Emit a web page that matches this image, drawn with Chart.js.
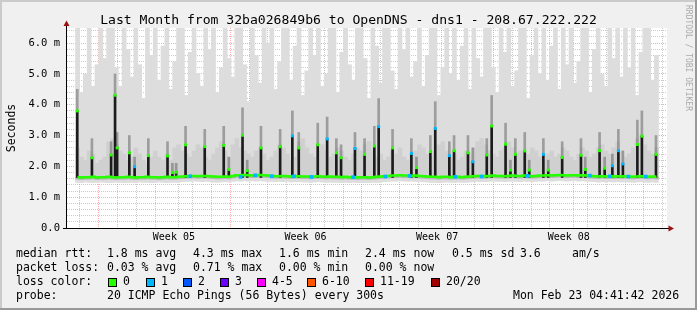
<!DOCTYPE html>
<html>
<head>
<meta charset="utf-8">
<script src="https://cdn.jsdelivr.net/npm/chart.js@4.4.1/dist/chart.umd.min.js"></script>
<style>
  html, body { margin: 0; padding: 0; background: #f0f0f0; }
  canvas { display: block; }
</style>
</head>
<body>
<canvas id="smoke" width="697" height="310"></canvas>
<script>
// time axis: days since Jan 23 04:41, one month shown
const DAYS = 31;
const weekStart = 1.73;               // first week boundary (days after start)
const weekLabels = ['Week 05', 'Week 06', 'Week 07', 'Week 08'];
const yLabels = ['0.0', '1.0 m', '2.0 m', '3.0 m', '4.0 m', '5.0 m', '6.0 m'];

// smoke per 4px bin (ms): lowest ping, lower band, median, middle band, highest ping
const smokeMax = [
  6.8, 4.4, 5.0, 6.8, 4.6, 5.3, 6.8, 5.5, 6.8, 6.8,
  5.2, 4.6, 6.8, 5.8, 4.9, 6.8, 5.3, 4.2, 6.8, 5.6,
  6.8, 4.8, 5.9, 6.8, 4.5, 5.4, 6.8, 6.8, 4.3, 5.7,
  6.8, 5.0, 4.6, 6.8, 5.8, 6.8, 4.4, 5.2, 6.8, 5.5,
  4.9, 6.8, 6.8, 5.3, 4.1, 6.8, 5.6, 4.7, 6.8, 6.0,
  6.8, 4.5, 5.4, 6.8, 6.8, 4.8, 5.9, 6.8, 4.3, 5.1,
  6.8, 5.6, 6.8, 4.6, 5.0, 6.8, 6.8, 4.4, 5.7, 6.8,
  5.3, 4.8, 6.8, 6.8, 5.5, 4.2, 6.8, 5.9, 4.7, 6.8,
  6.8, 5.1, 4.5, 6.8, 5.8, 6.8, 4.9, 5.4, 6.8, 4.6,
  5.6, 6.8, 6.8, 4.3, 5.2, 6.8, 5.0, 6.8, 4.8, 5.9,
  6.8, 4.5, 6.8, 5.5, 4.9, 6.8, 6.8, 5.2, 4.4, 6.8,
  5.7, 6.8, 4.6, 5.1, 6.8, 6.8, 4.2, 5.6, 6.8, 5.0,
  6.8, 4.8, 5.9, 6.8, 4.5, 6.8, 5.3, 6.8, 4.7, 5.4,
  6.8, 6.8, 4.4, 5.8, 6.8, 5.0, 4.6, 6.8, 5.5, 6.8,
  4.9, 6.8, 5.2, 6.8, 4.3, 5.7, 6.8, 6.8, 4.8, 5.6
];
const smokeMid = [
  2.6, 2.3, 2.2, 2.5, 2.4, 2.1, 2.2, 2.3, 2.8, 2.9,
  2.7, 2.5, 2.4, 2.2, 2.3, 2.6, 2.4, 2.2, 2.1, 2.3,
  2.5, 2.3, 2.2, 2.4, 2.2, 2.6, 2.7, 2.5, 2.4, 2.3,
  2.5, 2.7, 2.6, 2.3, 2.2, 2.4, 2.6, 2.8, 2.5, 2.3,
  2.7, 2.9, 2.6, 2.5, 2.4, 2.3, 2.5, 2.6, 2.4, 2.2,
  2.3, 2.5, 2.7, 2.6, 2.4, 2.2, 2.3, 2.8, 2.9, 2.6,
  2.4, 2.3, 2.5, 2.7, 2.5, 2.3, 2.4, 2.6, 2.5, 2.3,
  2.2, 2.4, 2.6, 2.5, 2.7, 2.8, 2.5, 2.3, 2.4, 2.2,
  2.3, 2.5, 2.4, 2.6, 2.3, 2.2, 2.4, 2.5, 2.7, 2.6,
  2.4, 2.3, 2.5, 2.7, 2.8, 2.5, 2.3, 2.4, 2.2, 2.3,
  2.5, 2.4, 2.6, 2.8, 2.9, 2.7, 2.5, 2.4, 2.3, 2.5,
  2.6, 2.8, 2.6, 2.4, 2.5, 2.3, 2.4, 2.6, 2.5, 2.3,
  2.2, 2.4, 2.5, 2.3, 2.4, 2.6, 2.5, 2.3, 2.2, 2.4,
  2.6, 2.5, 2.3, 2.4, 2.6, 2.7, 2.5, 2.4, 2.6, 2.8,
  2.5, 2.3, 2.4, 2.6, 2.9, 3.0, 2.7, 2.5, 2.4, 2.6
];
const median = [
  1.65, 1.64, 1.65, 1.65, 1.66, 1.64, 1.65, 1.65, 1.66, 1.65,
  1.64, 1.65, 1.65, 1.66, 1.65, 1.64, 1.65, 1.65, 1.66, 1.65,
  1.65, 1.64, 1.65, 1.66, 1.65, 1.65, 1.66, 1.67, 1.68, 1.69,
  1.69, 1.68, 1.69, 1.69, 1.68, 1.67, 1.66, 1.66, 1.67, 1.66,
  1.69, 1.71, 1.71, 1.72, 1.71, 1.70, 1.71, 1.72, 1.71, 1.70,
  1.69, 1.68, 1.68, 1.69, 1.68, 1.67, 1.68, 1.68, 1.67, 1.67,
  1.66, 1.67, 1.68, 1.67, 1.66, 1.67, 1.66, 1.66, 1.65, 1.66,
  1.65, 1.65, 1.64, 1.65, 1.65, 1.64, 1.65, 1.66, 1.67, 1.68,
  1.69, 1.70, 1.70, 1.71, 1.70, 1.70, 1.69, 1.70, 1.69, 1.68,
  1.67, 1.66, 1.66, 1.65, 1.66, 1.66, 1.65, 1.66, 1.66, 1.65,
  1.66, 1.67, 1.68, 1.69, 1.69, 1.68, 1.69, 1.70, 1.69, 1.69,
  1.68, 1.69, 1.70, 1.69, 1.69, 1.70, 1.69, 1.68, 1.69, 1.70,
  1.70, 1.71, 1.70, 1.71, 1.72, 1.71, 1.70, 1.71, 1.71, 1.70,
  1.71, 1.70, 1.69, 1.68, 1.67, 1.68, 1.67, 1.68, 1.67, 1.68,
  1.67, 1.68, 1.67, 1.66, 1.67, 1.68, 1.67, 1.66, 1.67, 1.66
];
const smokeLo = [
  1.58, 1.57, 1.58, 1.58, 1.59, 1.57, 1.58, 1.58, 1.59, 1.58,
  1.57, 1.58, 1.58, 1.59, 1.58, 1.57, 1.58, 1.58, 1.59, 1.58,
  1.58, 1.57, 1.58, 1.59, 1.58, 1.58, 1.59, 1.60, 1.61, 1.62,
  1.62, 1.61, 1.62, 1.62, 1.61, 1.60, 1.59, 1.59, 1.60, 1.59,
  1.62, 1.64, 1.64, 1.65, 1.64, 1.63, 1.64, 1.65, 1.64, 1.63,
  1.62, 1.61, 1.61, 1.62, 1.61, 1.60, 1.61, 1.61, 1.60, 1.60,
  1.59, 1.60, 1.61, 1.60, 1.59, 1.60, 1.59, 1.59, 1.58, 1.59,
  1.58, 1.58, 1.57, 1.58, 1.58, 1.57, 1.58, 1.59, 1.60, 1.61,
  1.62, 1.63, 1.63, 1.64, 1.63, 1.63, 1.62, 1.63, 1.62, 1.61,
  1.60, 1.59, 1.59, 1.58, 1.59, 1.59, 1.58, 1.59, 1.59, 1.58,
  1.59, 1.60, 1.61, 1.62, 1.62, 1.61, 1.62, 1.63, 1.62, 1.62,
  1.61, 1.62, 1.63, 1.62, 1.62, 1.63, 1.62, 1.61, 1.62, 1.63,
  1.63, 1.64, 1.63, 1.64, 1.65, 1.64, 1.63, 1.64, 1.64, 1.63,
  1.64, 1.63, 1.62, 1.61, 1.60, 1.61, 1.60, 1.61, 1.60, 1.61,
  1.60, 1.61, 1.60, 1.59, 1.60, 1.61, 1.60, 1.59, 1.60, 1.59
];
const smokeMin = [
  1.48, 1.47, 1.49, 1.48, 1.47, 1.48, 1.49, 1.48, 1.47, 1.48,
  1.49, 1.48, 1.47, 1.48, 1.48, 1.47, 1.49, 1.48, 1.48, 1.47,
  1.48, 1.49, 1.48, 1.47, 1.48, 1.48, 1.49, 1.50, 1.51, 1.51,
  1.52, 1.51, 1.50, 1.51, 1.50, 1.49, 1.48, 1.49, 1.50, 1.49,
  1.51, 1.53, 1.52, 1.53, 1.52, 1.53, 1.52, 1.53, 1.52, 1.51,
  1.51, 1.50, 1.51, 1.50, 1.51, 1.49, 1.50, 1.50, 1.49, 1.49,
  1.48, 1.49, 1.50, 1.49, 1.48, 1.49, 1.48, 1.48, 1.47, 1.48,
  1.47, 1.48, 1.47, 1.48, 1.47, 1.47, 1.48, 1.48, 1.49, 1.50,
  1.51, 1.52, 1.52, 1.53, 1.52, 1.51, 1.52, 1.51, 1.51, 1.50,
  1.49, 1.48, 1.48, 1.47, 1.48, 1.49, 1.48, 1.48, 1.49, 1.48,
  1.48, 1.49, 1.50, 1.51, 1.50, 1.50, 1.51, 1.52, 1.51, 1.51,
  1.50, 1.51, 1.52, 1.51, 1.50, 1.52, 1.51, 1.50, 1.51, 1.52,
  1.52, 1.53, 1.52, 1.53, 1.54, 1.53, 1.52, 1.53, 1.53, 1.52,
  1.53, 1.52, 1.51, 1.50, 1.49, 1.50, 1.49, 1.50, 1.49, 1.50,
  1.49, 1.50, 1.49, 1.48, 1.49, 1.50, 1.49, 1.48, 1.49, 1.48
];

// median jumps (days, ms) with loss class and the dark smoke above them
const spikeDays = [
  0.09, 0.87, 1.89, 2.10, 2.21, 2.86, 3.14, 3.87, 4.89, 5.15,
  5.35, 5.85, 6.87, 7.88, 8.15, 8.88, 9.13, 9.86, 10.88, 11.53,
  11.87, 12.88, 13.38, 13.87, 14.12, 14.86, 15.37, 15.89, 16.12, 16.86,
  17.86, 18.13, 18.87, 19.13, 19.88, 20.13, 20.87, 21.13, 21.87, 22.13,
  22.87, 23.13, 23.39, 23.89, 24.13, 24.88, 25.14, 25.88, 26.88, 27.11,
  27.87, 28.14, 28.55, 28.87, 29.11, 29.88, 30.12, 30.87
];
const spikeTops = [
  3.80, 2.28, 2.37, 4.31, 2.60, 2.44, 1.99, 2.35, 2.34, 1.80,
  1.81, 2.70, 2.64, 2.68, 1.90, 3.01, 1.86, 2.60, 2.64, 2.99,
  2.60, 2.70, 2.89, 2.44, 2.28, 2.58, 2.39, 2.66, 3.29, 2.60,
  2.42, 1.96, 2.48, 3.23, 2.35, 2.51, 2.44, 2.15, 2.37, 3.31,
  2.72, 1.88, 2.39, 2.50, 1.88, 2.39, 1.88, 2.29, 2.36, 1.90,
  2.51, 1.94, 2.02, 2.51, 2.08, 2.71, 2.98, 2.39
];
const spikeHaze = [
  4.5, 2.9, 2.8, 5.0, 3.1, 3.0, 2.3, 2.9, 2.8, 2.1,
  2.1, 3.3, 3.2, 3.3, 2.3, 3.9, 2.2, 3.3, 3.2, 3.8,
  3.1, 3.4, 3.6, 2.9, 2.7, 3.1, 2.9, 3.3, 4.2, 3.2,
  2.9, 2.3, 3.0, 4.1, 2.8, 3.0, 3.0, 2.6, 2.9, 4.3,
  3.4, 2.2, 2.9, 3.1, 2.2, 2.9, 2.2, 2.8, 2.9, 2.3,
  3.1, 2.3, 2.4, 3.2, 2.5, 3.5, 3.8, 3.0
];
const spikeLoss = [
  0, 0, 0, 0, 0, 0, 1, 0, 0, 0,
  0, 0, 0, 0, 0, 0, 0, 0, 0, 1,
  0, 0, 1, 0, 0, 1, 0, 0, 1, 0,
  1, 0, 0, 1, 1, 0, 0, 1, 0, 0,
  0, 0, 0, 0, 0, 1, 0, 0, 0, 0,
  0, 0, 1, 1, 1, 0, 0, 0
];
const spikeBase = 1.64;

// single-loss samples on the baseline
const lossMarkDays = [6.10, 8.78, 9.56, 10.44, 11.62, 12.55, 14.76, 16.48, 17.77, 20.20, 21.60, 24.03, 27.36, 28.42, 29.40, 30.33];
const lossMarkValues = [1.68, 1.66, 1.71, 1.68, 1.68, 1.66, 1.65, 1.67, 1.69, 1.66, 1.67, 1.69, 1.70, 1.68, 1.67, 1.67];

const lossLabels = ['0', '1', '2', '3', '4-5', '6-10', '11-19', '20/20'];
const lossColors = ['#26ff00', '#00b8ff', '#0059ff', '#6a00ff', '#ff00ff', '#ff5500', '#ff0000', '#a10000'];

const legendRows = [
  [[16, 'median rtt:'], [107, '1.8 ms avg'], [193, '4.3 ms max'], [279, '1.6 ms min'], [365, '2.4 ms now'], [452, '0.5 ms sd'], [520, '3.6'], [572, 'am/s']],
  [[16, 'packet loss:'], [107, '0.03 % avg'], [193, '0.71 % max'], [279, '0.00 % min'], [365, '0.00 % now']],
  [[16, 'loss color:']],
  [[16, 'probe:'], [107, '20 ICMP Echo Pings (56 Bytes) every 300s'], [513, 'Mon Feb 23 04:41:42 2026']]
];
const title = 'Last Month from 32ba026849b6 to OpenDNS - dns1 - 208.67.222.222';

const MONO = '"DejaVu Sans Mono", monospace';
const bins = smokeMax.map((_, i) => (i + 0.5) * DAYS / smokeMax.length);

// grid positions
const dayLines = [];
for (let d = weekStart - 1; d < DAYS; d += 1) dayLines.push(d);
const labelDays = weekLabels.map((_, k) => weekStart + 3.5 + 7 * k);
const xTickValues = dayLines.concat(labelDays).sort((a, b) => a - b);
const yTickValues = [];
for (let k = 0; k <= 32; k++) yTickValues.push(k * 0.2);

const isWeekLine = v => Math.abs((v - weekStart) / 7 - Math.round((v - weekStart) / 7)) < 1e-6;
const labelIndex = v => labelDays.findIndex(d => Math.abs(d - v) < 1e-6);
const isMajorY = v => Math.abs(v - Math.round(v)) < 1e-6;

const GRID = 'rgba(140,140,140,0.45)';
const MGRID = 'rgba(255,0,0,0.33)';

function xGridColor(c) {
  if (!c.tick) return GRID;
  const v = c.tick.value;
  if (labelIndex(v) >= 0) return 'rgba(0,0,0,0)';
  return isWeekLine(v) ? MGRID : GRID;
}
function yGridColor(c) {
  if (!c.tick) return GRID;
  return isMajorY(c.tick.value) ? MGRID : GRID;
}

const frame = {
  id: 'frame',
  beforeDraw(chart) {
    const {ctx, chartArea: a} = chart;
    ctx.save();
    ctx.fillStyle = '#f0f0f0';
    ctx.fillRect(0, 0, 697, 310);
    ctx.fillStyle = '#cbcbcb';
    ctx.fillRect(0, 0, 697, 2);
    ctx.fillRect(0, 0, 2, 310);
    ctx.fillStyle = '#999999';
    ctx.fillRect(0, 308, 697, 2);
    ctx.fillRect(695, 0, 2, 310);
    ctx.fillStyle = '#ffffff';
    ctx.fillRect(a.left, a.top, a.right - a.left, a.bottom - a.top);
    ctx.restore();
  },
  afterDraw(chart) {
    const {ctx, chartArea: a} = chart;
    ctx.save();
    // axes
    ctx.strokeStyle = '#000';
    ctx.lineWidth = 1;
    ctx.beginPath();
    ctx.moveTo(a.left - 0.5, a.bottom);
    ctx.lineTo(a.left - 0.5, 25);
    ctx.moveTo(63, a.bottom + 0.5);
    ctx.lineTo(a.right + 2, a.bottom + 0.5);
    ctx.stroke();
    ctx.fillStyle = '#9b1010';
    ctx.beginPath();
    ctx.moveTo(a.left - 0.5, 20.5);
    ctx.lineTo(a.left - 3.5, 26);
    ctx.lineTo(a.left + 2.5, 26);
    ctx.closePath();
    ctx.fill();
    ctx.beginPath();
    ctx.moveTo(a.right + 7, a.bottom + 0.5);
    ctx.lineTo(a.right + 1.5, a.bottom - 2.5);
    ctx.lineTo(a.right + 1.5, a.bottom + 3.5);
    ctx.closePath();
    ctx.fill();

    // title
    ctx.fillStyle = '#000';
    ctx.font = '13.1px ' + MONO;
    ctx.textAlign = 'center';
    ctx.textBaseline = 'alphabetic';
    ctx.fillText(title, 348.5, 24);

    // unit label
    ctx.font = '11.5px ' + MONO;
    ctx.save();
    ctx.translate(15, 128);
    ctx.rotate(-Math.PI / 2);
    ctx.fillText('Seconds', 0, 0);
    ctx.restore();

    // watermark
    ctx.save();
    ctx.fillStyle = '#aaaaaa';
    ctx.font = '8px ' + MONO;
    ctx.translate(685.5, 5);
    ctx.rotate(Math.PI / 2);
    ctx.textAlign = 'left';
    ctx.fillText('RRDTOOL / TOBI OETIKER', 0, 0);
    ctx.restore();

    // legend
    ctx.textAlign = 'left';
    ctx.font = '11.5px ' + MONO;
    const base = [257, 271, 285, 299];
    legendRows.forEach((row, r) => {
      row.forEach(([x, s]) => ctx.fillText(s, x, base[r]));
    });
    const boxX = [108, 146, 183, 220, 257, 307, 365, 431];
    lossLabels.forEach((lab, i) => {
      ctx.fillStyle = lossColors[i];
      ctx.fillRect(boxX[i], 278, 9, 9);
      ctx.strokeStyle = '#000';
      ctx.strokeRect(boxX[i] + 0.5, 278.5, 8, 8);
      ctx.fillStyle = '#000';
      ctx.fillText(lab, boxX[i] + 15, base[2]);
    });
    ctx.restore();
  }
};

new Chart(document.getElementById('smoke'), {
  type: 'bar',
  data: {
    datasets: [
      {
        label: 'smoke',
        data: bins.map((t, i) => ({x: t, y: [smokeMin[i], smokeMax[i]]})),
        backgroundColor: '#dddddd',
        barThickness: 4,
        grouped: false,
        order: 10
      },
      {
        label: 'smoke middle',
        data: bins.map((t, i) => ({x: t, y: [median[i], smokeMid[i]]})),
        backgroundColor: '#d0d0d0',
        barThickness: 4,
        grouped: false,
        order: 9
      },
      {
        label: 'smoke low',
        data: bins.map((t, i) => ({x: t, y: [smokeLo[i], median[i]]})),
        backgroundColor: '#b6b6b6',
        barThickness: 4,
        grouped: false,
        order: 8
      },
      {
        label: 'spike smoke',
        data: spikeDays.map((t, i) => ({x: t, y: [spikeTops[i], spikeHaze[i]]})),
        backgroundColor: 'rgba(80,80,80,0.45)',
        barThickness: 2,
        grouped: false,
        order: 7
      },
      {
        label: 'spikes',
        data: spikeDays.map((t, i) => ({x: t, y: [spikeBase, spikeTops[i]]})),
        backgroundColor: '#1c1c1c',
        barThickness: 2,
        grouped: false,
        order: 6
      },
      {
        type: 'line',
        label: 'median rtt',
        data: bins.map((t, i) => ({x: t, y: median[i]})),
        borderColor: '#26ff00',
        borderWidth: 2.5,
        stepped: 'middle',
        pointRadius: 0,
        order: 5
      },
      {
        type: 'scatter',
        label: 'spike loss',
        data: spikeDays.map((t, i) => ({x: t, y: spikeTops[i]})),
        pointStyle: 'rect',
        pointRadius: 2.1,
        pointBorderWidth: 0,
        pointBackgroundColor: spikeLoss.map(l => lossColors[l]),
        order: 4
      },
      {
        type: 'scatter',
        label: 'baseline loss',
        data: lossMarkDays.map((t, i) => ({x: t, y: lossMarkValues[i]})),
        pointStyle: 'rect',
        pointRadius: 2.6,
        pointBorderWidth: 0,
        pointBackgroundColor: lossColors[1],
        order: 3
      }
    ]
  },
  options: {
    responsive: false,
    animation: false,
    devicePixelRatio: 1,
    layout: {padding: {left: 0, right: 30, top: 28, bottom: 0}},
    plugins: {legend: {display: false}, tooltip: {enabled: false}},
    scales: {
      x: {
        type: 'linear',
        min: 0,
        max: DAYS,
        z: 1,
        afterBuildTicks: s => { s.ticks = xTickValues.map(v => ({value: v})); },
        afterFit: s => { s.height = 82; },
        border: {display: false, dash: [1, 1]},
        grid: {drawTicks: false, color: xGridColor},
        ticks: {
          autoSkip: false,
          maxRotation: 0,
          padding: 3,
          color: '#000',
          font: {family: MONO, size: 10},
          callback: v => { const k = labelIndex(v); return k >= 0 ? weekLabels[k] : ''; }
        }
      },
      y: {
        min: 0,
        max: 6.49,
        z: 1,
        afterBuildTicks: s => { s.ticks = yTickValues.map(v => ({value: v})); },
        afterFit: s => { s.width = 67; },
        border: {display: false, dash: [1, 1]},
        grid: {drawTicks: false, color: yGridColor},
        ticks: {
          autoSkip: false,
          padding: 7,
          color: '#000',
          font: {family: MONO, size: 10.5},
          callback: v => isMajorY(v) ? yLabels[Math.round(v)] : ''
        }
      }
    }
  },
  plugins: [frame]
});
</script>
</body>
</html>
